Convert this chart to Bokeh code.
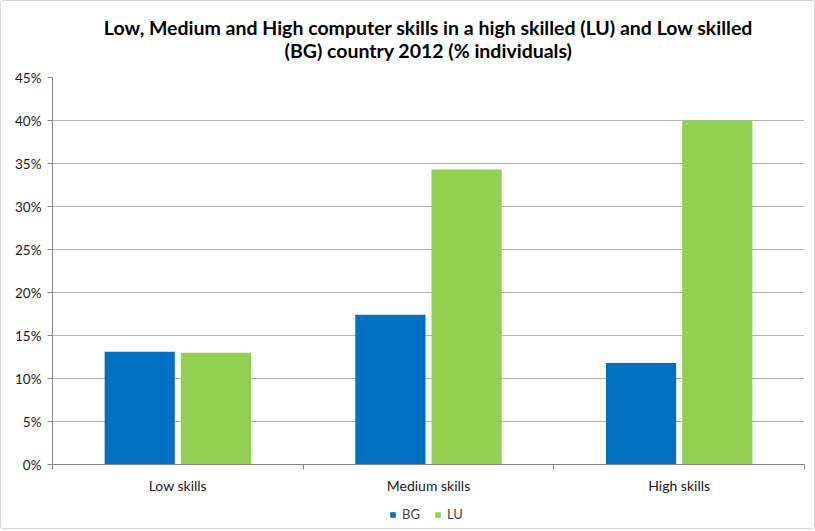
from bokeh.plotting import figure
from bokeh.layouts import column
from bokeh.models import (ColumnDataSource, FixedTicker, NumeralTickFormatter, Range1d,
                          Label, Legend, LegendItem)
from bokeh.embed import file_html
from bokeh.resources import INLINE

categories = ["Low skills", "Medium skills", "High skills"]
series_names = ["BG", "LU"]
bg_values = [0.131, 0.174, 0.118]
lu_values = [0.130, 0.343, 0.400]
y_ticks = [0, 0.05, 0.10, 0.15, 0.20, 0.25, 0.30, 0.35, 0.40, 0.45]
title_lines = ["Low, Medium and High computer skills in a high skilled (LU) and Low skilled",
               "(BG) country 2012 (% individuals)"]

colors = ["#0070C0", "#92D050"]
FONT = "Lato"
W = 813

centers = [i + 0.5 for i in range(len(categories))]
offset = 0.152
bar_w = 0.28

# ---------------- title strip ----------------
TH = 62
pt = figure(width=W, height=TH, output_backend="svg", toolbar_location=None,
            x_range=Range1d(0, 1), y_range=Range1d(0, TH),
            x_axis_location=None, y_axis_location=None,
            min_border_left=0, min_border_right=0, min_border_top=0, min_border_bottom=0,
            background_fill_color="white", border_fill_color="white")
pt.outline_line_color = None
pt.grid.visible = False
for line, y in zip(title_lines, [TH - 26, TH - 49]):
    pt.add_layout(Label(x=0.5, y=y, text=line, text_align="center", text_baseline="middle",
                        text_font=FONT, text_font_size="19.5px", text_font_style="bold",
                        text_color="black"))

# ---------------- main chart ----------------
p = figure(width=W, height=437, output_backend="svg", toolbar_location=None,
           x_range=Range1d(0, len(categories)), y_range=Range1d(0, 0.45),
           min_border_left=51, min_border_right=10, min_border_top=14, min_border_bottom=36,
           background_fill_color="white", border_fill_color="white")
p.outline_line_color = None

src_bg = ColumnDataSource(dict(x=[c - offset for c in centers], top=bg_values))
src_lu = ColumnDataSource(dict(x=[c + offset for c in centers], top=lu_values))
p.vbar(x="x", top="top", width=bar_w, source=src_bg, fill_color=colors[0], line_color=None)
p.vbar(x="x", top="top", width=bar_w, source=src_lu, fill_color=colors[1], line_color=None)

# x axis: labels at category centres, tick marks at category boundaries
p.xaxis.ticker = FixedTicker(ticks=centers, minor_ticks=list(range(len(categories) + 1)))
p.xaxis.major_label_overrides = {c: n for c, n in zip(centers, categories)}
p.xaxis.major_tick_line_color = None
p.xaxis.major_tick_out = 0
p.xaxis.minor_tick_line_color = "#868686"
p.xaxis.minor_tick_out = 5
p.xaxis.minor_tick_in = 0
p.xaxis.axis_line_color = "#868686"
p.xaxis.major_label_text_font = FONT
p.xaxis.major_label_text_font_size = "14px"
p.xaxis.major_label_text_color = "#1a1a1a"
p.xaxis.major_label_standoff = 7
p.xgrid.visible = False

# y axis
p.yaxis.ticker = FixedTicker(ticks=y_ticks)
p.yaxis.formatter = NumeralTickFormatter(format="0%")
p.yaxis.axis_line_color = "#868686"
p.yaxis.major_tick_line_color = "#868686"
p.yaxis.major_tick_out = 5
p.yaxis.major_tick_in = 0
p.yaxis.minor_tick_line_color = None
p.yaxis.major_label_text_font = FONT
p.yaxis.major_label_text_font_size = "13.5px"
p.yaxis.major_label_text_color = "#1a1a1a"
p.yaxis.major_label_standoff = 6
p.ygrid.grid_line_color = "#B3B3B3"
p.ygrid.grid_line_width = 1

# ---------------- legend strip ----------------
pl = figure(width=W, height=28, output_backend="svg", toolbar_location=None,
            x_range=Range1d(0, 1), y_range=Range1d(0, 1),
            x_axis_location=None, y_axis_location=None,
            min_border_left=0, min_border_right=0, min_border_top=0, min_border_bottom=0,
            background_fill_color="white", border_fill_color="white")
pl.outline_line_color = None
pl.grid.visible = False
leg_r = [pl.vbar(x=[0], top=[0], bottom=[0], width=0.0, fill_color=c, line_color=None)
         for c in colors]

legend = Legend(items=[LegendItem(label=n, renderers=[r]) for n, r in zip(series_names, leg_r)],
                orientation="horizontal", location="center",
                glyph_width=7, glyph_height=7, label_text_font=FONT, label_text_font_size="13px",
                label_standoff=6, spacing=12, background_fill_alpha=0, border_line_color=None,
                padding=0, margin=0, label_height=14)
pl.add_layout(legend)

layout = column(pt, p, pl, spacing=0)
layout.styles = {"border": "1px solid #D9D9D9", "border-radius": "3px"}
open("out.html", "w").write(file_html(layout, INLINE))
